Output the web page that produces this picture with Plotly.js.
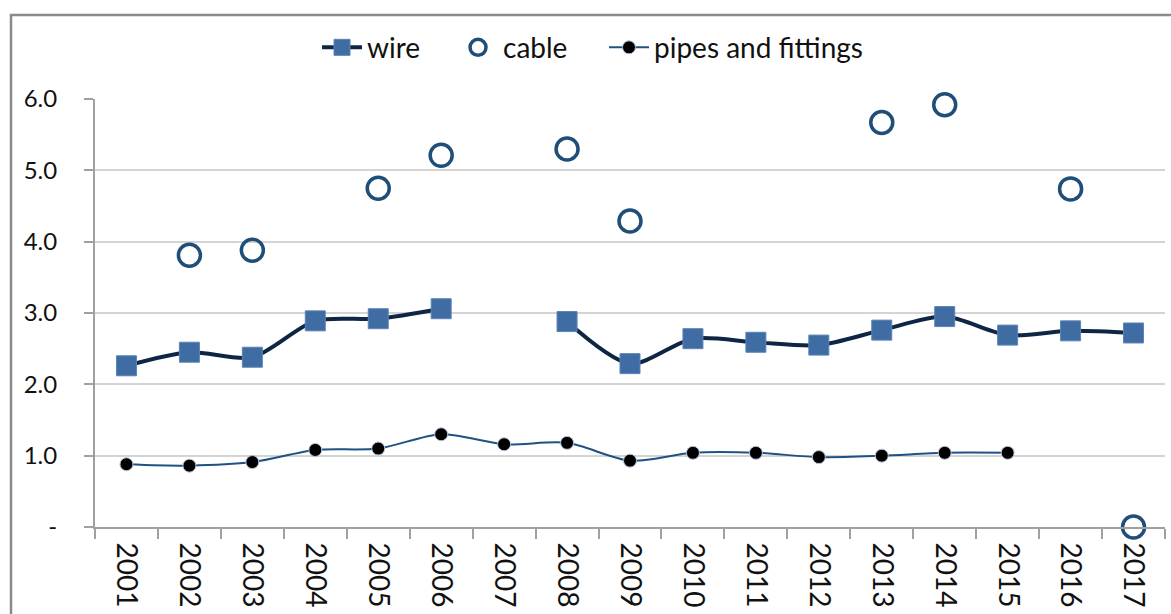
<!DOCTYPE html>
<html>
<head>
<meta charset="utf-8">
<script src="https://cdn.plot.ly/plotly-3.0.1.min.js"></script>
<style>
html,body{margin:0;padding:0;background:#fff;}
#chart{width:1171px;height:614px;}
</style>
</head>
<body>
<div id="chart"></div>
<script>
const years = ["2001","2002","2003","2004","2005","2006","2007","2008","2009","2010","2011","2012","2013","2014","2015","2016","2017"];
const wire = [2.26, 2.45, 2.38, 2.89, 2.92, 3.06, null, 2.88, 2.29, 2.64, 2.59, 2.55, 2.76, 2.95, 2.69, 2.75, 2.72];
const cable = [null, 3.81, 3.88, null, 4.75, 5.21, null, 5.30, 4.29, null, null, null, 5.67, 5.92, null, 4.74, 0];
const pipes = [0.88, 0.86, 0.91, 1.08, 1.10, 1.30, 1.16, 1.18, 0.93, 1.04, 1.04, 0.98, 1.00, 1.04, 1.04, null, null];
const yTickVals = [0, 1, 2, 3, 4, 5, 6];
const yTickText = ["-", "1.0", "2.0", "3.0", "4.0", "5.0", "6.0"];

const FONT = "Lato, 'Open Sans', sans-serif";

const traces = [
  {
    name: "wire", x: years, y: wire, type: "scatter", mode: "lines+markers", legend: "legend",
    connectgaps: false, cliponaxis: false,
    line: {color: "#0f2544", width: 4, shape: "spline", smoothing: 0.8},
    marker: {symbol: "square", size: 20, color: "#3f6ca3", line: {color: "#5b84b8", width: 1}}
  },
  {
    name: "cable", x: years, y: cable, type: "scatter", mode: "markers", cliponaxis: false, legend: "legend2",
    marker: {symbol: "circle-open", size: 22, color: "#1f4e79", line: {color: "#1f4e79", width: 3.5}}
  },
  {
    name: "pipes and fittings", x: years, y: pipes, type: "scatter", mode: "lines+markers", legend: "legend3",
    connectgaps: false, cliponaxis: false,
    line: {color: "#1f5282", width: 2, shape: "spline", smoothing: 0.8},
    marker: {symbol: "circle", size: 13, color: "#000000", line: {color: "#b8c8e0", width: 1}}
  }
];

function leg(x) {
  return {orientation: "h", x: x, xanchor: "left", y: 1.12, yanchor: "middle",
          font: {family: FONT, size: 28, color: "#111111"}, itemwidth: 40,
          bgcolor: "rgba(0,0,0,0)"};
}

const layout = {
  width: 1171, height: 614,
  margin: {l: 95, r: 6, t: 99, b: 87},
  paper_bgcolor: "#ffffff", plot_bgcolor: "#ffffff",
  font: {family: FONT, size: 23, color: "#111111"},
  showlegend: true,
  legend: leg(0.2075),
  legend2: leg(0.3346),
  legend3: leg(0.4757),
  xaxis: {
    type: "category", range: [-0.5, 16.5], tickangle: 90,
    showline: true, linecolor: "#a0a0a0", linewidth: 2,
    ticks: "outside", ticklen: 10, tickcolor: "#a0a0a0", tickwidth: 2, tickson: "boundaries",
    showgrid: false, zeroline: false, ticklabelstandoff: 8,
    tickfont: {family: FONT, size: 28, color: "#111111"}
  },
  yaxis: {
    range: [0, 6], tickvals: yTickVals, ticktext: yTickText,
    showline: true, linecolor: "#a0a0a0", linewidth: 2,
    ticks: "outside", ticklen: 9, tickcolor: "#a0a0a0", tickwidth: 2,
    showgrid: true, gridcolor: "#d4d4d4", gridwidth: 2, zeroline: false,
    ticklabelstandoff: 22,
    tickfont: {family: FONT, size: 24, color: "#111111"}
  },
  shapes: [
    {type: "rect", xref: "paper", yref: "paper",
     x0: -0.0785, x1: 1.02, y0: -0.25, y1: 1.196,
     line: {color: "#8a8a8a", width: 2.5}, fillcolor: "rgba(0,0,0,0)", layer: "below"}
  ]
};

Plotly.newPlot("chart", traces, layout, {displayModeBar: false, staticPlot: true});
</script>
</body>
</html>
